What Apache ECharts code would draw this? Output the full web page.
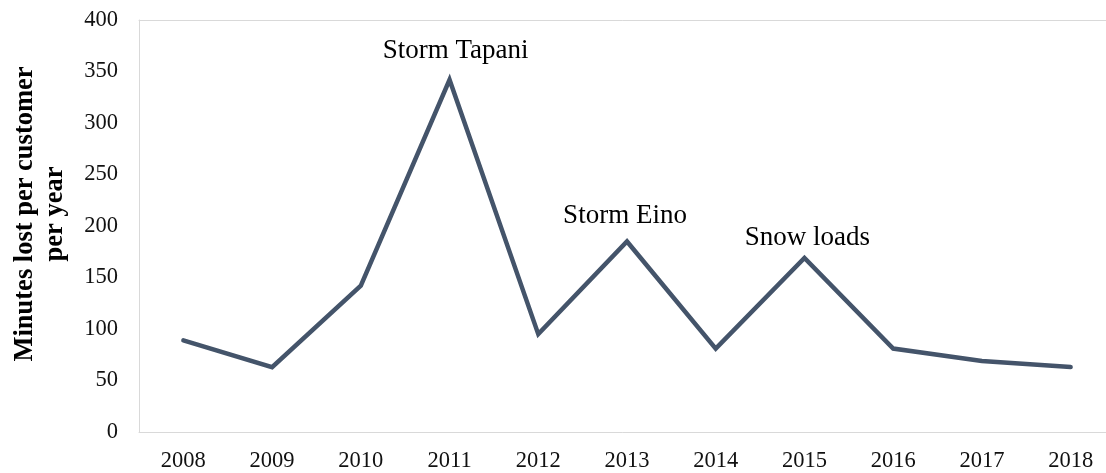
<!DOCTYPE html>
<html>
<head>
<meta charset="utf-8">
<script src="https://cdn.jsdelivr.net/npm/echarts@6/dist/echarts.min.js"></script>
<style>
  html, body { margin: 0; padding: 0; background: #fff; }
  #chart { width: 1106px; height: 473px; }
</style>
</head>
<body>
<div id="chart"></div>
<script>
// data
const years = ["2008", "2009", "2010", "2011", "2012", "2013", "2014", "2015", "2016", "2017", "2018"];
const minutesLost = [89, 63, 142, 342, 95, 185, 81, 169, 81, 69, 63];
const notes = ["", "", "", "Storm Tapani", "", "Storm Eino", "", "Snow loads", "", "", ""];
const yTicks = [0, 50, 100, 150, 200, 250, 300, 350, 400];

// label nudges so the notes sit where the original has them
const noteOffsets = { "Storm Tapani": [6, -10], "Storm Eino": [-2, -7], "Snow loads": [3, -2] };

const font = "'Liberation Serif', 'Times New Roman', serif";
const frameLine = { show: true, lineStyle: { color: "#d9d9d9", width: 1 } };

const seriesData = minutesLost.map((v, i) => {
  if (!notes[i]) return v;
  return {
    value: v,
    label: {
      show: true,
      formatter: notes[i],
      offset: noteOffsets[notes[i]]
    }
  };
});

let myChart = echarts.init(document.getElementById("chart"));
myChart.setOption({
  animation: false,
  textStyle: { fontFamily: font },
  grid: {
    left: 139,
    top: 20,
    bottom: 41,
    width: 976, // runs past the right edge like the original
    outerBoundsMode: "none",
    containLabel: false
  },
  xAxis: [
    {
      type: "category",
      data: years,
      boundaryGap: true,
      axisLine: frameLine,
      axisTick: { show: false },
      axisLabel: { color: "#111", fontSize: 22.5, fontFamily: font, margin: 18 }
    },
    {
      // top edge of the plot frame
      type: "category",
      data: years,
      position: "top",
      axisLine: frameLine,
      axisTick: { show: false },
      axisLabel: { show: false }
    }
  ],
  yAxis: {
    type: "value",
    min: yTicks[0],
    max: yTicks[yTicks.length - 1],
    interval: 50,
    axisLine: frameLine,
    axisTick: { show: false },
    splitLine: { show: false },
    axisLabel: { color: "#111", fontSize: 22.5, fontFamily: font, margin: 21 }
  },
  graphic: [
    {
      type: "text",
      x: 40,
      y: 214,
      rotation: Math.PI / 2,
      style: {
        text: "Minutes lost per customer\nper year",
        fontFamily: font,
        fontSize: 26.5,
        fontWeight: "bold",
        lineHeight: 30,
        fill: "#000",
        align: "center",
        verticalAlign: "middle"
      }
    }
  ],
  series: [
    {
      type: "line",
      data: seriesData,
      symbol: "circle",
      symbolSize: 0,
      showSymbol: true,
      lineStyle: { color: "#44546a", width: 4.5, cap: "round", join: "miter" },
      itemStyle: { color: "#44546a" },
      label: {
        show: false,
        position: "top",
        distance: 5,
        color: "#000",
        fontSize: 27,
        lineHeight: 27,
        fontFamily: font
      }
    }
  ]
});
</script>
</body>
</html>
